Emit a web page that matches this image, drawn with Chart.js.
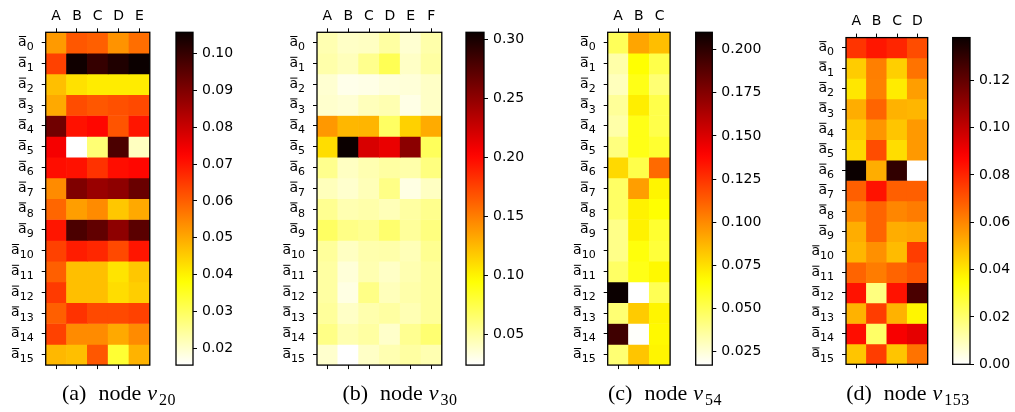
<!DOCTYPE html>
<html>
<head>
<meta charset="utf-8">
<script src="https://cdn.jsdelivr.net/npm/chart.js@4.4.1/dist/chart.umd.min.js"></script>
<style>
  body { margin: 0; background: #fff; width: 1015px; height: 412px; position: relative; overflow: hidden; }
  canvas { position: absolute; left: 0; top: 0; }
  .cap { position: absolute; top: 382px; width: 200px; text-align: center; white-space: nowrap;
         font-family: "Liberation Serif", serif; font-size: 22px; line-height: 22px; color: #000; }
  .cap .w { margin-left: 12px; margin-right: 6px; }
  .cap .s { font-size: 16px; letter-spacing: 0.5px; position: relative; top: 5px; margin-left: 2px; }
</style>
</head>
<body>
<canvas id="hA" width="1015" height="412"></canvas>
<canvas id="cA" width="1015" height="412"></canvas>
<canvas id="hB" width="1015" height="412"></canvas>
<canvas id="cB" width="1015" height="412"></canvas>
<canvas id="hC" width="1015" height="412"></canvas>
<canvas id="cC" width="1015" height="412"></canvas>
<canvas id="hD" width="1015" height="412"></canvas>
<canvas id="cD" width="1015" height="412"></canvas>

<div class="cap" style="left:19px">(a)<span class="w">node</span><i>v</i><span class="s">20</span></div>
<div class="cap" style="left:300px">(b)<span class="w">node</span><i>v</i><span class="s">30</span></div>
<div class="cap" style="left:565px">(c)<span class="w">node</span><i>v</i><span class="s">54</span></div>
<div class="cap" style="left:808px">(d)<span class="w">node</span><i>v</i><span class="s">153</span></div>

<script>
// row subscripts for the a-bar labels
const rowSubs = ['0', '1', '2', '3', '4', '5', '6', '7', '8', '9', '10', '11', '12', '13', '14', '15'];

// node v20
const colsA = ['A', 'B', 'C', 'D', 'E'];
const valuesA = [
  [0.052, 0.061, 0.060, 0.053, 0.058],
  [0.064, 0.105, 0.100, 0.103, 0.1057],
  [0.047, 0.0425, 0.041, 0.041, 0.041],
  [0.050, 0.0625, 0.061, 0.062, 0.063],
  [0.092, 0.0705, 0.072, 0.0615, 0.070],
  [0.074, 0.0155, 0.028, 0.097, 0.0212],
  [0.071, 0.0705, 0.066, 0.071, 0.072],
  [0.054, 0.090, 0.0865, 0.088, 0.093],
  [0.059, 0.0515, 0.054, 0.046, 0.050],
  [0.070, 0.097, 0.094, 0.088, 0.095],
  [0.064, 0.069, 0.0675, 0.063, 0.070],
  [0.060, 0.047, 0.047, 0.042, 0.046],
  [0.065, 0.047, 0.047, 0.043, 0.045],
  [0.060, 0.066, 0.063, 0.063, 0.064],
  [0.064, 0.054, 0.054, 0.050, 0.054],
  [0.048, 0.047, 0.061, 0.0338, 0.0487]
];
const ticksA = [0.02, 0.03, 0.04, 0.05, 0.06, 0.07, 0.08, 0.09, 0.10];
const tickLabelsA = ['0.02', '0.03', '0.04', '0.05', '0.06', '0.07', '0.08', '0.09', '0.10'];

// node v30
const colsB = ['A', 'B', 'C', 'D', 'E', 'F'];
const valuesB = [
  [0.046, 0.040, 0.041, 0.050, 0.037, 0.048],
  [0.048, 0.043, 0.056, 0.072, 0.040, 0.050],
  [0.037, 0.030, 0.031, 0.034, 0.035, 0.040],
  [0.038, 0.036, 0.043, 0.046, 0.031, 0.040],
  [0.139, 0.126, 0.127, 0.068, 0.115, 0.131],
  [0.110, 0.306, 0.2195, 0.212, 0.252, 0.070],
  [0.056, 0.041, 0.046, 0.050, 0.048, 0.060],
  [0.043, 0.038, 0.044, 0.058, 0.032, 0.041],
  [0.055, 0.046, 0.048, 0.044, 0.050, 0.056],
  [0.068, 0.058, 0.055, 0.065, 0.052, 0.060],
  [0.052, 0.041, 0.047, 0.048, 0.044, 0.055],
  [0.050, 0.035, 0.046, 0.040, 0.046, 0.052],
  [0.050, 0.032, 0.058, 0.043, 0.048, 0.052],
  [0.052, 0.040, 0.047, 0.050, 0.045, 0.052],
  [0.058, 0.046, 0.050, 0.039, 0.055, 0.064],
  [0.038, 0.024, 0.040, 0.046, 0.050, 0.046]
];
const ticksB = [0.05, 0.10, 0.15, 0.20, 0.25, 0.30];
const tickLabelsB = ['0.05', '0.10', '0.15', '0.20', '0.25', '0.30'];

// node v54
const colsC = ['A', 'B', 'C'];
const valuesC = [
  [0.049, 0.092, 0.085],
  [0.034, 0.066, 0.052],
  [0.030, 0.062, 0.044],
  [0.037, 0.071, 0.052],
  [0.034, 0.062, 0.052],
  [0.042, 0.062, 0.057],
  [0.077, 0.052, 0.109],
  [0.047, 0.094, 0.069],
  [0.047, 0.070, 0.066],
  [0.040, 0.070, 0.057],
  [0.040, 0.064, 0.055],
  [0.047, 0.062, 0.068],
  [0.210, 0.0172, 0.050],
  [0.044, 0.081, 0.069],
  [0.195, 0.018, 0.068],
  [0.044, 0.083, 0.069]
];
const ticksC = [0.025, 0.05, 0.075, 0.10, 0.125, 0.15, 0.175, 0.20];
const tickLabelsC = ['0.025', '0.050', '0.075', '0.100', '0.125', '0.150', '0.175', '0.200'];

// node v153
const colsD = ['A', 'B', 'C', 'D'];
const valuesD = [
  [0.077, 0.083, 0.080, 0.072],
  [0.0456, 0.0615, 0.045, 0.064],
  [0.040, 0.061, 0.039, 0.055],
  [0.052, 0.067, 0.051, 0.050],
  [0.046, 0.057, 0.047, 0.056],
  [0.043, 0.072, 0.042, 0.056],
  [0.138, 0.052, 0.130, 0.000],
  [0.068, 0.084, 0.068, 0.068],
  [0.060, 0.067, 0.060, 0.062],
  [0.052, 0.067, 0.052, 0.053],
  [0.050, 0.058, 0.049, 0.075],
  [0.067, 0.062, 0.067, 0.070],
  [0.084, 0.0176, 0.084, 0.125],
  [0.051, 0.075, 0.051, 0.037],
  [0.085, 0.021, 0.089, 0.093],
  [0.047, 0.075, 0.047, 0.064]
];
const ticksD = [0.00, 0.02, 0.04, 0.06, 0.08, 0.10, 0.12];
const tickLabelsD = ['0.00', '0.02', '0.04', '0.06', '0.08', '0.10', '0.12'];

const W = 1015, H = 412;

Chart.defaults.font.family = 'DejaVu Sans';
Chart.defaults.font.size = 14;
Chart.defaults.color = '#000';
Chart.defaults.animation = false;
Chart.defaults.events = [];
Chart.defaults.plugins.legend.display = false;
Chart.defaults.plugins.tooltip.enabled = false;

// matplotlib "hot_r"
function hotR(t) {
  const s = 1 - Math.min(1, Math.max(0, t));
  const r = s < 0.365079 ? 0.0416 + (1 - 0.0416) * s / 0.365079 : 1;
  const g = s < 0.365079 ? 0 : (s < 0.746032 ? (s - 0.365079) / (0.746032 - 0.365079) : 1);
  const b = s < 0.746032 ? 0 : (s - 0.746032) / (1 - 0.746032);
  return 'rgb(' + Math.round(r * 255) + ',' + Math.round(g * 255) + ',' + Math.round(b * 255) + ')';
}

const tickGrid = { display: true, drawOnChartArea: false, drawTicks: true, tickLength: 4, color: '#000', lineWidth: 1 };

const frame = {
  id: 'frame',
  afterDatasetsDraw(chart) {
    const { ctx, chartArea: a } = chart;
    ctx.save();
    ctx.strokeStyle = '#000';
    ctx.lineWidth = 1.3;
    ctx.strokeRect(a.left, a.top, a.right - a.left, a.bottom - a.top);
    ctx.restore();
  }
};

// overlined a with subscript index, right aligned next to each row tick
const rowLabels = {
  id: 'rowLabels',
  afterDraw(chart) {
    const { ctx } = chart;
    const y = chart.scales.y;
    const right = chart.chartArea.left - 12;
    ctx.save();
    ctx.fillStyle = '#000';
    ctx.strokeStyle = '#000';
    ctx.textBaseline = 'alphabetic';
    rowSubs.forEach((sub, i) => {
      const c = y.getPixelForValue(i + 0.5);
      ctx.font = '11px "DejaVu Sans"';
      const ws = ctx.measureText(sub).width;
      ctx.fillText(sub, right - ws, c + 7.5);
      ctx.font = '14px "DejaVu Sans"';
      const wa = ctx.measureText('a').width;
      const xa = right - ws - wa;
      ctx.fillText('a', xa, c + 3.2);
      ctx.lineWidth = 1;
      ctx.beginPath();
      ctx.moveTo(xa + 0.8, c - 6.2);
      ctx.lineTo(xa + wa - 0.6, c - 6.2);
      ctx.stroke();
    });
    ctx.restore();
  }
};

function drawHeatmap(id, cols, values, box) {
  const all = values.flat();
  const lo = Math.min(...all), hi = Math.max(...all);
  new Chart(document.getElementById(id), {
    type: 'bar',
    data: {
      labels: cols,
      datasets: values.map(row => ({
        data: row.map(() => 1),
        backgroundColor: row.map(v => hotR((v - lo) / (hi - lo))),
        borderWidth: 0,
        barPercentage: 1,
        categoryPercentage: 1
      }))
    },
    options: {
      responsive: false,
      layout: { padding: { left: box.left - 6, top: box.top - 28, right: W - box.right, bottom: H - box.bottom - 8 } },
      scales: {
        x: {
          type: 'category', position: 'top', stacked: true, offset: true,
          grid: Object.assign({}, tickGrid, { offset: false }),
          border: { display: false },
          ticks: { padding: 4, autoSkip: false, maxRotation: 0 },
          afterFit: s => { s.height = 28; }
        },
        x2: {
          type: 'category', position: 'bottom', offset: true,
          grid: Object.assign({}, tickGrid, { offset: false }),
          border: { display: false },
          ticks: { display: false },
          afterFit: s => { s.height = 8; }
        },
        y: {
          type: 'linear', min: 0, max: values.length, reverse: true, stacked: true,
          grid: tickGrid,
          border: { display: false },
          ticks: { display: false },
          afterBuildTicks: s => { s.ticks = values.map((_, i) => ({ value: i + 0.5 })); },
          afterFit: s => { s.width = 6; }
        }
      }
    },
    plugins: [frame, rowLabels]
  });
}

function gradient(chart) {
  const a = chart.chartArea;
  if (!a) return '#fff';
  const g = chart.ctx.createLinearGradient(0, a.bottom, 0, a.top);
  for (let i = 0; i <= 40; i++) g.addColorStop(i / 40, hotR(i / 40));
  return g;
}

function drawColorbar(id, values, ticks, labels, box) {
  const all = values.flat();
  const lo = Math.min(...all), hi = Math.max(...all);
  new Chart(document.getElementById(id), {
    type: 'bar',
    data: {
      labels: [''],
      datasets: [{
        data: [[lo, hi]],
        backgroundColor: ctx => gradient(ctx.chart),
        borderWidth: 0,
        barPercentage: 1,
        categoryPercentage: 1
      }]
    },
    options: {
      responsive: false,
      layout: { padding: { left: box.left, top: box.top, right: W - box.right - 60, bottom: H - box.bottom } },
      scales: {
        x: { display: false },
        y: {
          type: 'linear', position: 'right', min: lo, max: hi,
          grid: tickGrid,
          border: { display: false },
          ticks: { padding: 5, callback: (v, i) => labels[i] },
          afterBuildTicks: s => { s.ticks = ticks.map(v => ({ value: v })); },
          afterFit: s => { s.width = 60; }
        }
      }
    },
    plugins: [frame]
  });
}

drawHeatmap('hA', colsA, valuesA, { left: 45.7, top: 32.3, right: 149.8, bottom: 365.1 });
drawColorbar('cA', valuesA, ticksA, tickLabelsA, { left: 176, top: 32.3, right: 193, bottom: 365.1 });

drawHeatmap('hB', colsB, valuesB, { left: 317, top: 32.3, right: 441.8, bottom: 365.1 });
drawColorbar('cB', valuesB, ticksB, tickLabelsB, { left: 466, top: 32.3, right: 484, bottom: 365.1 });

drawHeatmap('hC', colsC, valuesC, { left: 607.7, top: 32.3, right: 670.1, bottom: 365.1 });
drawColorbar('cC', valuesC, ticksC, tickLabelsC, { left: 695.7, top: 32.3, right: 712.3, bottom: 365.1 });

drawHeatmap('hD', colsD, valuesD, { left: 846, top: 37.6, right: 927.7, bottom: 364.3 });
drawColorbar('cD', valuesD, ticksD, tickLabelsD, { left: 952.7, top: 37.6, right: 970, bottom: 364.3 });
</script>
</body>
</html>
